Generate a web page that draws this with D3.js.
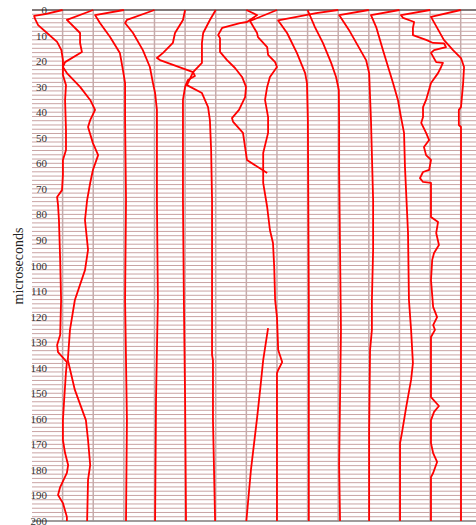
<!DOCTYPE html>
<html>
<head>
<meta charset="utf-8">
<script src="https://cdn.jsdelivr.net/npm/d3@7"></script>
<style>
    body { margin: 0; background: #fff; }
    svg { display: block; }
</style>
</head>
<body>
<svg id="trace-plot"></svg>
<script>
// each trace: [microseconds, amplitude] (amplitude in units of trace spacing, null = gap)
const trace0 = [[0,0],[1.6,-0.57],[2.3,-0.93],[3.5,-0.9],[5.9,-0.8],[9,-0.51],[12.5,-0.18],[15.7,-0.04],[19.6,0.01],
    [25.4,0.01],[29.4,0.11],[35.2,0.08],[47,0.11],[54.8,0.11],[58.7,0.01],[64.6,0.01],[70.5,-0.02],[73.2,-0.18],
    [76.3,-0.15],[82.2,-0.12],[97.8,-0.08],[113.5,-0.05],[127.2,-0.08],[131.1,-0.18],[133.9,-0.15],[137.8,0.14],
    [141.7,0.11],[152.6,0.05],[160.5,0.01],[168.3,0.01],[173.4,0.08],[178.1,0.18],[181.2,0.14],[186.7,-0.08],
    [189.8,-0.15],[193,0.01],[198.4,0.14],[200,0.14]];
const trace1 = [[0,0],[3.9,-0.86],[9,-0.43],[12.9,-0.43],[16.4,-0.37],[20.4,-0.92],[22.3,-0.99],[24.7,-0.86],
    [30.1,-0.43],[35.2,-0.1],[39.1,0.06],[43.1,-0.1],[45.8,-0.17],[52.1,-0.01],[56.8,0.16],[62.6,-0.01],
    [67.7,-0.1],[74.4,-0.2],[82.2,-0.27],[93.9,-0.17],[101.8,-0.27],[113.5,-0.6],[125.2,-0.76],[137,-0.83],
    [148.7,-0.6],[160.5,-0.24],[168.3,-0.17],[178.1,-0.1],[183.9,-0.17],[200,-0.2]];
const trace2 = [[0,0],[2,-0.94],[5.1,-0.78],[10.6,-0.45],[16.8,-0.13],[23.5,-0.03],[28.6,0.04],[43.1,0.04],
    [74.4,0.07],[113.5,0.04],[160.5,0.1],[200,0.07]];
const trace3 = [[0,0],[3.9,-0.9],[5.1,-0.96],[9,-0.7],[15.7,-0.38],[22.3,-0.15],[28.6,-0.05],[32.5,0.02],
    [39.1,0.08],[74.4,0.08],[113.5,0.11],[152.6,0.05],[200,0.02]];
const trace4 = [[0,0],[3.9,-0.07],[9,-0.33],[12.9,-0.4],[16.8,-0.72],[18.8,-0.92],[19.6,-0.82],[24.3,0.26],
    [25.8,0.32],[27.4,0.09],[30.1,0],[35.2,-0.07],[43.1,-0.07],[74.4,-0.07],[113.5,-0.04],[152.6,0],[200,0.03]];
const trace5 = [[0,0],[3.9,-0.19],[9,-0.41],[12.9,-0.45],[20.7,-0.45],[24.3,-0.74],[29.4,-0.94],[32.5,-0.45],
    [38,-0.25],[43.1,-0.19],[54.8,-0.15],[74.4,-0.12],[135,-0.12],[137,-0.09],[160.5,-0.09],[200,-0.02]];
const trace6 = [[0,0],[2,0.35],[4.7,0.02],[5.1,-0.21],[7,-0.79],[9.8,-0.92],[11,-0.86],[16.4,-0.86],[19.6,-0.63],
    [22.7,-0.37],[26.2,-0.14],[30.1,-0.01],[34.1,-0.04],[39.1,-0.24],[42.3,-0.47],[43.8,-0.43],[48.1,-0.11],
    [58.7,0.02],[63.8,0.68],[64,null],[124,null],[124.5,0.71],[137,0.55],[148.7,0.45],[159.7,0.35],[180,0.15],[200,0]];
const trace7 = [[0,0],[4.3,-0.88],[9,-0.65],[10.6,-0.62],[14.5,-0.32],[17.6,-0.29],[20.4,-0.06],[22.3,0],
    [26.2,-0.23],[30.1,-0.32],[35.2,-0.39],[41.9,-0.29],[48.1,-0.29],[56,-0.45],[67.7,-0.45],[77.1,-0.32],
    [86.1,-0.23],[91.2,-0.13],[100.6,-0.09],[113.5,-0.06],[120.2,0],[133.1,0.04],[137.8,0.17],[140.9,0.04],
    [142.1,0],[200,0]];
const trace8 = [[0,0],[6.7,0.24],[12.9,0.5],[20.7,0.77],[26.2,0.93],[31.3,1.02],[43.1,1.03],[62.6,1.03],
    [93.9,1.06],[125.2,1.09],[178.1,1.03],[200,1.06]];
const trace9 = [[0,0],[1.2,-0.72],[4.1,-1.96],[9,-1.67],[16.8,-1.35],[24.7,-1.08],[28.6,-1.02],[43.1,-0.99],
    [113.5,-0.96],[200,-0.96]];
const trace10 = [[0,0],[2,-0.97],[7.8,-0.65],[19.6,-0.09],[24.7,0.01],[43.1,0.07],[74.4,0.14],[93.9,0.14],
    [113.5,0.1],[125.2,0.1],[133.1,0.04],[164.4,0.01],[200,0.01]];
const trace11 = [[0,0],[2,-0.93],[6.7,-0.76],[15.7,-0.54],[28.6,-0.21],[35.2,-0.05],[41.9,0.05],[48.1,0.15],
    [61.4,0.18],[87.3,0.28],[113.5,0.31],[125.2,0.38],[138.2,0.44],[144.8,0.38],[155.4,0.22],[165.6,0.08],
    [169.5,0.02],[200,0.02]];
const trace12 = [[0,0],[2,-0.95],[3.1,-0.88],[4.7,-0.52],[7,-0.56],[9.8,-0.56],[11.7,-0.13],[12.9,0.1],
    [13.1,0.46],[14.5,0.52],[15.7,0.13],[16.8,0.03],[20.4,0.2],[20.7,0.42],[22.3,0.36],[24.7,0.26],[27.4,0.1],
    [28.6,0.03],[35.2,-0.13],[38,-0.23],[41.9,-0.23],[44.2,-0.29],[48.1,-0.13],[50.9,-0.03],[53.6,-0.2],
    [56.8,-0.13],[58.7,0.03],[62.6,-0.03],[63.4,-0.23],[65.8,-0.33],[67.3,-0.23],[67.7,0.03],[81,0.03],
    [83,0.26],[87.3,0.2],[92,0.29],[95.1,0.13],[97.8,0.07],[105.7,0.03],[116.2,0.1],[120.2,0.23],[123.3,0.1],
    [125.2,0.16],[128,0.03],[151.5,0.03],[155,0.29],[157.3,0.13],[160.5,0.03],[169.5,0.03],[173.4,0.1],
    [176.9,0.23],[181.2,0.1],[182.8,0.03],[200,0.03]];
const trace13 = [[0,0],[2.7,-0.97],[11.7,-0.55],[15.7,-0.25],[18.8,0.01],[22.3,0.11],[28.6,0.08],[38,0.01],
    [39.1,-0.06],[45,-0.06],[45.8,0.01],[200,0.01]];

const traces = [trace0, trace1, trace2, trace3, trace4, trace5, trace6,
    trace7, trace8, trace9, trace10, trace11, trace12, trace13];

const yTicks = d3.range(0, 201, 10);
const gridStep = 10 / 6;
const yLabel = "microseconds";

class TracePlot
{
    constructor(traces)
    {
        this.traces = traces;
    }

    plot()
    {
        let width = 476, height = 525,
            left = 32, top = 10, bottom = 521;

        let svg = d3.select("#trace-plot")
            .attr("width", width)
            .attr("height", height);

        let xScale = d3.scaleLinear()
            .domain([-1, 13.5])
            .range([left, width]);

        let yScale = d3.scaleLinear()
            .domain([0, 200])
            .range([top, bottom]);

        //Horizontal grid
        svg.append("g").selectAll("line")
            .data(d3.range(0, 200 + 1e-6, gridStep))
            .enter().append("line")
            .attr("x1", left)
            .attr("x2", width)
            .attr("y1", (d) => { return yScale(d); })
            .attr("y2", (d) => { return yScale(d); })
            .attr("stroke", "#c9a3a3")
            .attr("stroke-width", 1);

        //Trace baselines
        svg.append("g").selectAll("line")
            .data(this.traces)
            .enter().append("line")
            .attr("x1", (d, i) => { return xScale(i); })
            .attr("x2", (d, i) => { return xScale(i); })
            .attr("y1", top)
            .attr("y2", bottom)
            .attr("stroke", "#c6abab")
            .attr("stroke-width", 1.5);

        //Top and bottom frame
        svg.append("line")
            .attr("x1", left).attr("x2", width)
            .attr("y1", yScale(0)).attr("y2", yScale(0))
            .attr("stroke", "#222")
            .attr("stroke-width", 1.2);

        svg.append("line")
            .attr("x1", left).attr("x2", width)
            .attr("y1", yScale(200)).attr("y2", yScale(200))
            .attr("stroke", "#8a8a8a")
            .attr("stroke-width", 1.6);

        //Add the y Axis
        let yAxis = svg.append("g")
            .attr("transform", "translate(47,0)")
            .call(d3.axisLeft(yScale).tickValues(yTicks).tickSize(0).tickPadding(0));

        yAxis.select(".domain").remove();
        yAxis.selectAll("text")
            .attr("fill", "#333")
            .style("font-family", "'Liberation Serif', 'DejaVu Serif', serif")
            .style("font-size", "11px");

        //Add the y Axis label
        svg.append("text")
            .attr("transform", "translate(23,266) rotate(-90)")
            .attr("text-anchor", "middle")
            .attr("fill", "#222")
            .style("font-family", "'Liberation Serif', 'DejaVu Serif', serif")
            .style("font-size", "14px")
            .text(yLabel);

        //Add the traces
        let line = d3.line()
            .defined((d) => { return d[1] !== null; })
            .x((d) => { return xScale(d[2] + d[1]); })
            .y((d) => { return yScale(d[0]); });

        svg.append("g").selectAll("path")
            .data(this.traces)
            .enter().append("path")
            .attr("d", (d, i) => { return line(d.map((p) => [p[0], p[1], i])); })
            .attr("fill", "none")
            .attr("stroke", "#ff0000")
            .attr("stroke-width", 1.8)
            .attr("stroke-linejoin", "round");
    }
}

let tracePlot = new TracePlot(traces);
tracePlot.plot();
</script>
</body>
</html>
